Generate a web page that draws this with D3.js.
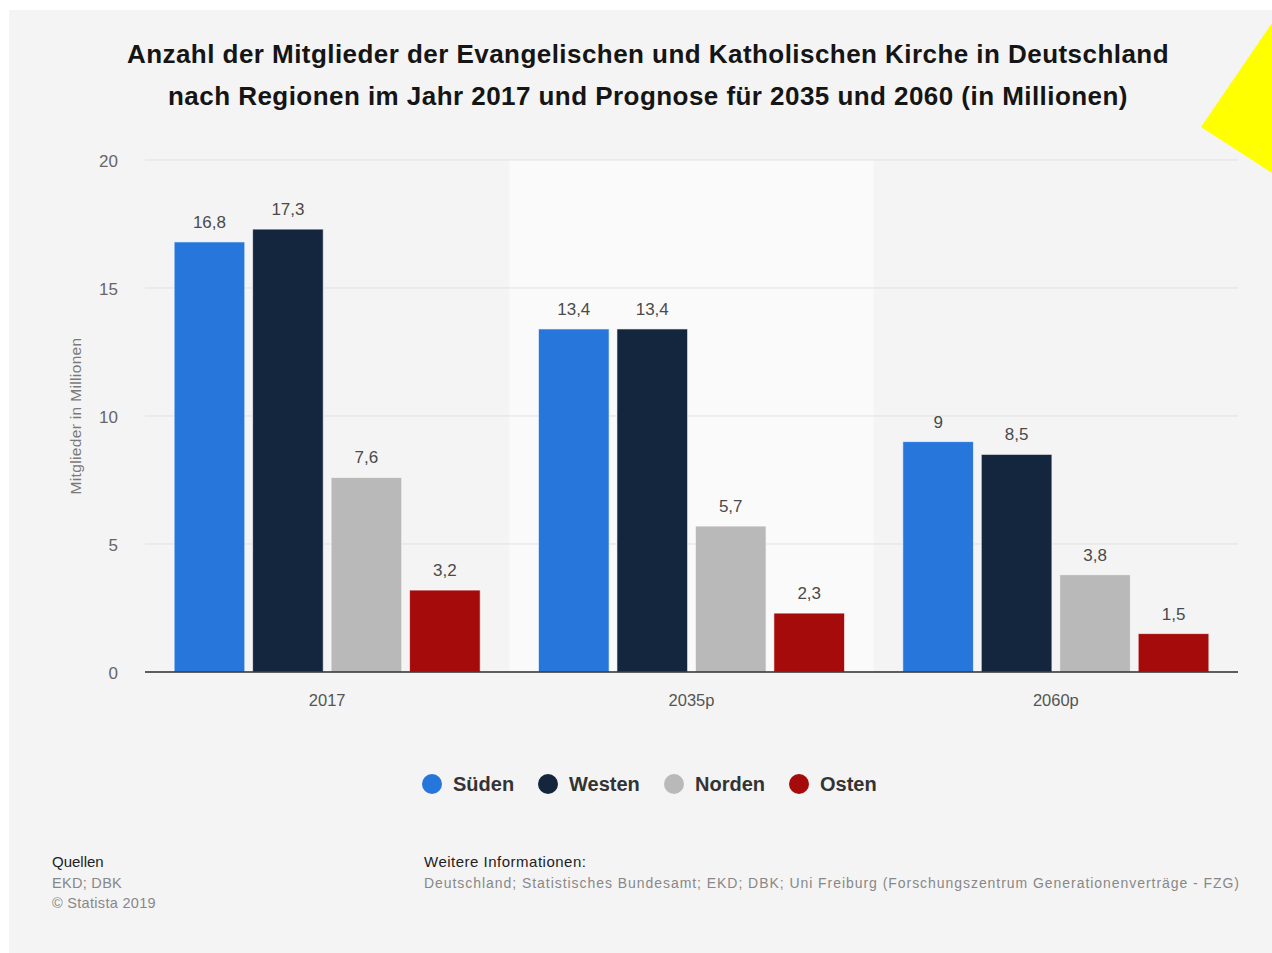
<!DOCTYPE html>
<html>
<head>
<meta charset="utf-8">
<script src="https://cdn.jsdelivr.net/npm/d3@7"></script>
<style>
  html, body { margin: 0; padding: 0; background: #fff; }
  svg { display: block; font-family: "Liberation Sans", Arial, Helvetica, sans-serif; }
</style>
</head>
<body>
<svg id="chart" width="1272" height="953"></svg>
<script>
const categories = ["2017", "2035p", "2060p"];
const seriesNames = ["Süden", "Westen", "Norden", "Osten"];
const suedenValues = [16.8, 13.4, 9];
const westenValues = [17.3, 13.4, 8.5];
const nordenValues = [7.6, 5.7, 3.8];
const ostenValues = [3.2, 2.3, 1.5];
const yTicks = [0, 5, 10, 15, 20];
const seriesColors = ["#2776dc", "#13263d", "#b9b9b9", "#a50b0b"];

const titleLines = [
  "Anzahl der Mitglieder der Evangelischen und Katholischen Kirche in Deutschland",
  "nach Regionen im Jahr 2017 und Prognose für 2035 und 2060 (in Millionen)"
];
const yAxisTitle = "Mitglieder in Millionen";
const sourcesLines = ["EKD; DBK", "© Statista 2019"];
const infoLine = "Deutschland; Statistisches Bundesamt; EKD; DBK; Uni Freiburg (Forschungszentrum Generationenverträge - FZG)";

const seriesValues = [suedenValues, westenValues, nordenValues, ostenValues];
const fmt = v => String(v).replace(".", ",");

const svg = d3.select("#chart");

// panel background
svg.append("rect").attr("x", 9).attr("y", 10).attr("width", 1263).attr("height", 943).attr("fill", "#f4f4f4");

const plot = { left: 145, right: 1238, top: 160, bottom: 672 };

const x0 = d3.scaleBand().domain(categories).range([plot.left, plot.right]).padding(0);
const x1 = d3.scaleBand().domain(seriesNames)
  .range([x0.bandwidth() * 0.08, x0.bandwidth() * 0.92]).paddingInner(0.1);
const y = d3.scaleLinear().domain([0, 20]).range([plot.bottom, plot.top]);
const color = d3.scaleOrdinal().domain(seriesNames).range(seriesColors);

// highlighted middle band
svg.append("rect")
  .attr("x", x0("2035p")).attr("y", y(20))
  .attr("width", x0.bandwidth()).attr("height", y(0) - y(20))
  .attr("fill", "#fafafa");

// gridlines
svg.append("g").selectAll("line").data(yTicks.filter(t => t > 0)).join("line")
  .attr("x1", plot.left).attr("x2", plot.right)
  .attr("y1", d => y(d)).attr("y2", d => y(d))
  .attr("stroke", "#e1e1e1").attr("stroke-width", 1);

// y axis labels
const yAxis = d3.axisLeft(y).tickValues(yTicks).tickSize(0).tickPadding(0).tickFormat(d => d);
const gy = svg.append("g").attr("transform", `translate(118,1.5)`).call(yAxis);
gy.select(".domain").remove();
gy.selectAll("text").attr("fill", "#666").attr("font-size", 17)
  .attr("font-family", "Liberation Sans, Arial, sans-serif");

// y axis title
svg.append("text")
  .attr("transform", `translate(81,${(plot.top + plot.bottom) / 2}) rotate(-90)`)
  .attr("text-anchor", "middle").attr("fill", "#7a7a7a").attr("font-size", 15.5)
  .attr("letter-spacing", 0.35)
  .text(yAxisTitle);

// bars
const rows = categories.map((c, i) => ({ cat: c, vals: seriesNames.map((s, j) => ({ s, v: seriesValues[j][i] })) }));
const groups = svg.append("g").selectAll("g").data(rows).join("g")
  .attr("transform", d => `translate(${x0(d.cat)},0)`);

groups.selectAll("rect").data(d => d.vals).join("rect")
  .attr("x", d => x1(d.s)).attr("y", d => y(d.v))
  .attr("width", x1.bandwidth()).attr("height", d => y(0) - y(d.v))
  .attr("fill", d => color(d.s))
  .attr("stroke", "#ffffff").attr("stroke-opacity", 0.6).attr("stroke-width", 1);

groups.selectAll("text").data(d => d.vals).join("text")
  .attr("x", d => x1(d.s) + x1.bandwidth() / 2)
  .attr("y", d => y(d.v) - 14)
  .attr("text-anchor", "middle").attr("fill", "#4a4a4a").attr("font-size", 17)
  .text(d => fmt(d.v));

// baseline
svg.append("line").attr("x1", plot.left).attr("x2", plot.right)
  .attr("y1", y(0)).attr("y2", y(0)).attr("stroke", "#2b2b2b").attr("stroke-width", 1.5);

// x axis
const xAxis = d3.axisBottom(x0).tickSize(0).tickPadding(0);
const gx = svg.append("g").attr("transform", `translate(0,${y(0) + 34})`).call(xAxis);
gx.select(".domain").remove();
gx.selectAll("text").attr("fill", "#555").attr("font-size", 16.5).attr("dy", 0)
  .attr("font-family", "Liberation Sans, Arial, sans-serif");

// title
svg.append("g").selectAll("text").data(titleLines).join("text")
  .attr("x", 648).attr("y", (d, i) => 63 + i * 42)
  .attr("text-anchor", "middle").attr("font-weight", "bold").attr("font-size", 26)
  .attr("letter-spacing", 0.45)
  .attr("fill", "#151515").text(d => d);

// legend
const legendX = [432, 548, 674, 799];
const lg = svg.append("g").selectAll("g").data(seriesNames).join("g")
  .attr("transform", (d, i) => `translate(${legendX[i]},784)`);
lg.append("circle").attr("r", 10).attr("fill", d => color(d));
lg.append("text").attr("x", 21).attr("y", 7).attr("font-size", 20).attr("font-weight", "bold")
  .attr("fill", "#333").text(d => d);

// footer
svg.append("text").attr("x", 52).attr("y", 867).attr("font-size", 15).attr("fill", "#222").text("Quellen");
svg.append("g").selectAll("text").data(sourcesLines).join("text")
  .attr("x", 52).attr("y", (d, i) => 888 + i * 20).attr("font-size", 14.5).attr("fill", "#888")
  .attr("letter-spacing", 0.3).text(d => d);
svg.append("text").attr("x", 424).attr("y", 867).attr("font-size", 15).attr("fill", "#222")
  .attr("letter-spacing", 0.5).text("Weitere Informationen:");
svg.append("text").attr("x", 424).attr("y", 888).attr("font-size", 14).attr("fill", "#888")
  .attr("letter-spacing", 0.95).text(infoLine);

// yellow corner marker
svg.append("path").attr("d", "M1272,23 L1201,127 L1272,173 Z").attr("fill", "#ffff00");
</script>
</body>
</html>
